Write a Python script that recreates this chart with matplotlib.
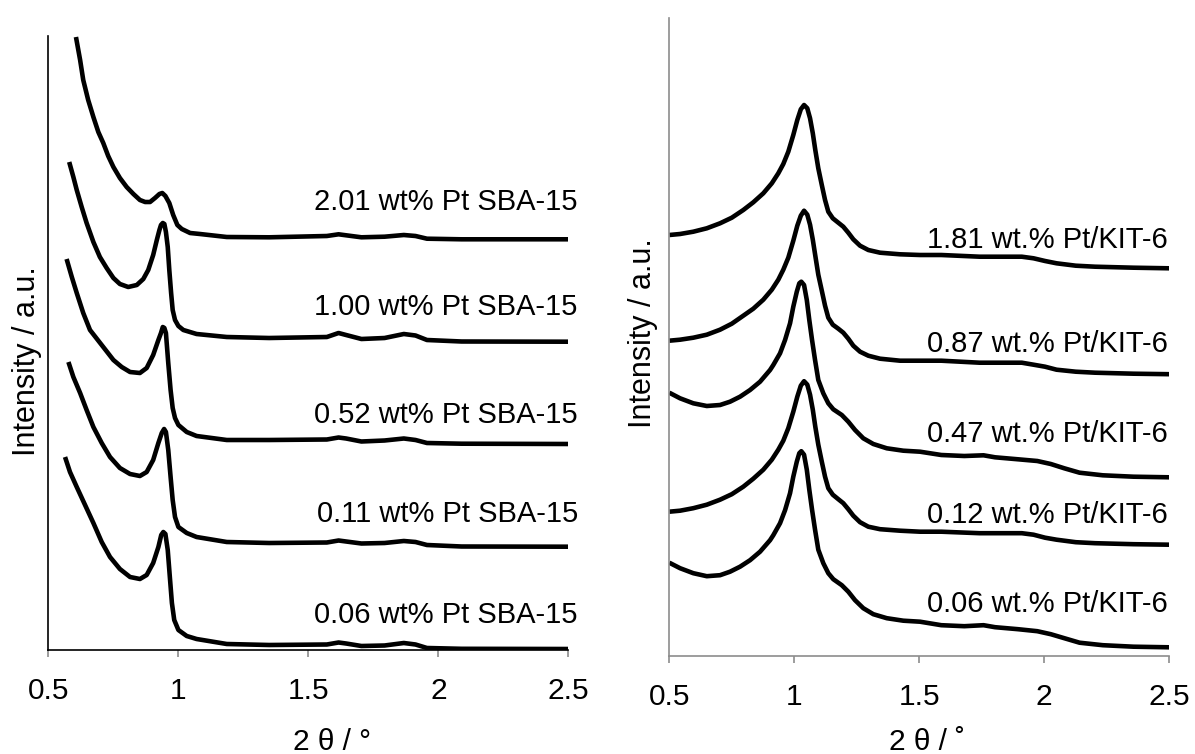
import matplotlib
matplotlib.use("Agg")
import matplotlib.pyplot as plt

plt.rcParams['font.family'] = ['Liberation Sans', 'DejaVu Sans']

# ---------------- Left panel: Pt SBA-15 (intensity in arbitrary units) ----------------
sba_labels = ["2.01 wt% Pt SBA-15", "1.00 wt% Pt SBA-15", "0.52 wt% Pt SBA-15",
              "0.11 wt% Pt SBA-15", "0.06 wt% Pt SBA-15"]

sba_201_x = [0.606, 0.622, 0.634, 0.653, 0.673, 0.692, 0.711, 0.730, 0.750, 0.775, 0.801, 0.827,
             0.852, 0.872, 0.891, 0.910, 0.927, 0.938, 0.950, 0.965, 0.980, 0.996, 1.013, 1.045,
             1.083, 1.186, 1.349, 1.571, 1.616, 1.645, 1.704, 1.793, 1.867, 1.912, 1.956, 2.089, 2.500]
sba_201_y = [613, 590, 570, 550, 533, 518, 507, 494, 483, 472, 463, 456,
             450, 448, 448, 452, 456, 457, 454, 447, 435, 425, 421, 417,
             416, 413, 412.7, 414, 415.7, 414.7, 412.7, 413.3, 415, 414, 411.3, 410.7, 410.7]

sba_100_x = [0.580, 0.596, 0.609, 0.628, 0.647, 0.673, 0.698, 0.724, 0.750, 0.775, 0.807, 0.840,
             0.865, 0.884, 0.903, 0.917, 0.927, 0.933, 0.940, 0.946, 0.952, 0.959, 0.965, 0.972,
             0.978, 0.987, 1.000, 1.019, 1.070, 1.186, 1.349, 1.571, 1.616, 1.645, 1.704, 1.793,
             1.867, 1.912, 1.956, 2.089, 2.500]
sba_100_y = [488, 473, 460, 443, 427, 408, 393, 382, 372, 366, 363, 365,
             371, 380, 395, 410, 420, 425, 427, 426, 418, 403, 380, 357,
             340, 330, 324, 320, 316, 313, 312, 313, 317, 315, 311, 312,
             316, 314.5, 310, 308.5, 308.3]

sba_052_x = [0.570, 0.590, 0.609, 0.634, 0.660, 0.711, 0.750, 0.782, 0.814, 0.852, 0.878, 0.903,
             0.923, 0.933, 0.940, 0.946, 0.952, 0.961, 0.970, 0.978, 0.987, 1.000, 1.032, 1.070,
             1.186, 1.349, 1.571, 1.616, 1.645, 1.704, 1.793, 1.867, 1.912, 1.956, 2.089, 2.500]
sba_052_y = [391, 373, 357, 337, 320, 303, 290, 283, 278, 277, 282, 295,
             310, 317, 323, 322, 317, 287, 260, 242, 232, 225, 218, 214,
             210, 210, 210.5, 212.5, 211.5, 208.5, 209.5, 211.5, 210, 207, 206.3, 206]

sba_011_x = [0.577, 0.596, 0.622, 0.647, 0.673, 0.705, 0.737, 0.775, 0.814, 0.852, 0.878, 0.903,
             0.923, 0.936, 0.945, 0.952, 0.961, 0.970, 0.978, 0.987, 1.000, 1.032, 1.070, 1.186,
             1.349, 1.571, 1.616, 1.645, 1.704, 1.793, 1.867, 1.912, 1.956, 2.089, 2.500]
sba_011_y = [288, 273, 257, 240, 223, 207, 193, 182, 176, 174, 178, 190,
             207, 217, 221, 218, 200, 173, 150, 133, 123, 117, 113, 108,
             107, 107.5, 109.5, 108.5, 106.5, 107, 109, 108, 105, 103.5, 103.3]

sba_006_x = [0.564, 0.583, 0.609, 0.641, 0.673, 0.705, 0.737, 0.775, 0.814, 0.852, 0.878, 0.903,
             0.923, 0.934, 0.942, 0.950, 0.959, 0.968, 0.975, 0.984, 1.000, 1.032, 1.070, 1.186,
             1.349, 1.571, 1.616, 1.645, 1.704, 1.793, 1.867, 1.912, 1.956, 2.089, 2.500]
sba_006_y = [193, 178, 163, 145, 127, 108, 93, 81, 73, 71, 75, 87,
             103, 115, 118, 116, 100, 70, 47, 30, 20, 14, 11, 6,
             5, 5.5, 7.5, 6.5, 4, 4.5, 7, 5.5, 2, 1.2, 1]

# ---------------- Right panel: Pt/KIT-6 ----------------
kit_labels = ["1.81 wt.% Pt/KIT-6", "0.87 wt.% Pt/KIT-6", "0.47 wt.% Pt/KIT-6",
              "0.12 wt.% Pt/KIT-6", "0.06 wt.% Pt/KIT-6"]

kit_x_a = [0.500, 0.543, 0.596, 0.650, 0.703, 0.750, 0.796, 0.836, 0.876, 0.910, 0.936, 0.956,
           0.976, 0.996, 1.012, 1.026, 1.039, 1.052, 1.063, 1.074, 1.084, 1.096, 1.110, 1.123,
           1.136, 1.154, 1.176, 1.196, 1.216, 1.236, 1.263, 1.296, 1.343, 1.423, 1.503, 1.588,
           1.741, 1.910, 1.957, 2.003, 2.049, 2.126, 2.203, 2.357, 2.500]
kit_181_y = [420.7, 421.7, 424, 427.4, 432.4, 438, 445.7, 453.4, 462.4, 472.4, 482.4, 491.7,
             504, 520.7, 535.7, 546.4, 550.7, 547.4, 537.4, 522.4, 505.7, 487.4, 470.7, 455.7,
             444, 437.4, 433, 429, 423, 416.4, 410, 405.7, 403, 401.4, 400.7, 400.7,
             399, 399, 397.4, 394.7, 392.4, 390, 389, 388, 387.4]
kit_087_y = [315, 316, 318, 321, 326, 332, 340, 347, 356, 366, 376, 386,
             398, 415, 430, 440, 445, 441, 431, 416, 400, 381, 365, 350,
             338, 331, 327, 323, 317, 310, 304, 300, 297, 295, 295, 295,
             293, 293, 291, 289, 286, 284, 283, 282, 281.5]
kit_012_y = [144, 145, 147.5, 151, 156, 161.5, 169, 177, 186, 196, 206, 215,
             227.5, 244, 259, 270, 274.5, 271, 261, 246, 229, 211, 194, 179,
             167.5, 161, 156.5, 152.5, 146.5, 140, 133.5, 129, 126.5, 125, 124, 124,
             122.5, 122.5, 121, 118, 116, 113.5, 112.5, 111.5, 111]

kit_x_b = [0.500, 0.543, 0.596, 0.650, 0.703, 0.743, 0.783, 0.823, 0.863, 0.903, 0.916, 0.943,
           0.963, 0.983, 0.996, 1.010, 1.020, 1.028, 1.039, 1.050, 1.060, 1.071, 1.083, 1.096,
           1.116, 1.136, 1.156, 1.190, 1.216, 1.243, 1.276, 1.316, 1.370, 1.436, 1.503, 1.588,
           1.680, 1.757, 1.803, 1.895, 1.972, 2.026, 2.080, 2.141, 2.234, 2.357, 2.500]
kit_047_y = [263, 257.4, 252.4, 249.7, 250.7, 254, 259, 265.7, 274, 285.7, 290.7, 302.4,
             315.7, 332.4, 349, 364, 372.4, 374, 370.7, 355.7, 335.7, 315.7, 295.7, 275.7,
             262.4, 252.4, 246.4, 240.7, 234, 225.7, 217.4, 211.7, 207.4, 205, 204, 200.7,
             199.7, 200.4, 198.4, 196.4, 194.7, 191.7, 187.4, 183, 180.4, 179, 178.4]
kit_006_y = [93, 87.5, 82.5, 79.5, 80.5, 84, 89, 95.5, 104, 115.5, 120.5, 132.5,
             145.5, 162.5, 179, 194, 202.5, 204.5, 201, 186, 166, 146, 126, 106,
             92.5, 82.5, 76.5, 70.5, 64, 55.5, 47.5, 41.5, 37.5, 35, 34, 30.5,
             29.5, 30.5, 28.5, 26.5, 24.5, 21.5, 17.5, 13, 10.5, 9, 8.4]

xticks = [0.5, 1, 1.5, 2, 2.5]
xtick_labels = ["0.5", "1", "1.5", "2", "2.5"]

W, H = 1195, 754
fig = plt.figure(figsize=(W / 100, H / 100), dpi=100)

axL = fig.add_axes([48.4 / W, 1 - 650 / H, 520 / W, 614 / H])
axR = fig.add_axes([669.3 / W, 1 - 655.7 / H, 500 / W, 637.7 / H])

line_kw = dict(color='black', lw=3.3, solid_joinstyle='round', solid_capstyle='butt')

sba_series = [(sba_201_x, sba_201_y), (sba_100_x, sba_100_y), (sba_052_x, sba_052_y),
              (sba_011_x, sba_011_y), (sba_006_x, sba_006_y)]
for x, y in sba_series:
    axL.plot(x, y, **line_kw)

kit_series = [(kit_x_a, kit_181_y), (kit_x_a, kit_087_y), (kit_x_b, kit_047_y),
              (kit_x_a, kit_012_y), (kit_x_b, kit_006_y)]
for x, y in kit_series:
    axR.plot(x, y, **line_kw)

axL.set_xlim(0.5, 2.5)
axL.set_ylim(0, 614)
axR.set_xlim(0.5, 2.5)
axR.set_ylim(0, 637.7)

# annotation baselines (data coordinates)
sba_label_y = [440, 335, 226.7, 128.3, 26.7]
kit_label_y = [407.4, 304, 214, 132.4, 44]
for lab, yy in zip(sba_labels, sba_label_y):
    axL.text(2.536, yy, lab, ha='right', va='baseline', fontsize=21)
for lab, yy in zip(kit_labels, kit_label_y):
    axR.text(2.495, yy, lab, ha='right', va='baseline', fontsize=21)

for ax, sc in ((axL, 'black'), (axR, '#8c8c8c')):
    ax.spines['top'].set_visible(False)
    ax.spines['right'].set_visible(False)
    ax.spines['left'].set_color(sc)
    ax.spines['bottom'].set_color(sc)
    ax.spines['left'].set_linewidth(1.2)
    ax.spines['bottom'].set_linewidth(1.2)
    ax.set_yticks([])
    ax.set_xticks(xticks)
    ax.set_xticklabels(xtick_labels)
    ax.tick_params(axis='x', direction='out', length=5, width=1.2, color='#8c8c8c',
                   labelsize=21.5, pad=14.5)

fig.text(332 / W, 1 - 750 / H, "2 θ / °", ha='center', va='baseline', fontsize=21.5)
fig.text(927 / W, 1 - 750 / H, "2 θ / ˚", ha='center', va='baseline', fontsize=21.5)

fig.text(27 / W, 1 - 361 / H, "Intensity / a.u.", rotation=90, ha='center', va='center', fontsize=22)
fig.text(643 / W, 1 - 333 / H, "Intensity / a.u.", rotation=90, ha='center', va='center', fontsize=22)

fig.savefig("out.png", dpi=100)
